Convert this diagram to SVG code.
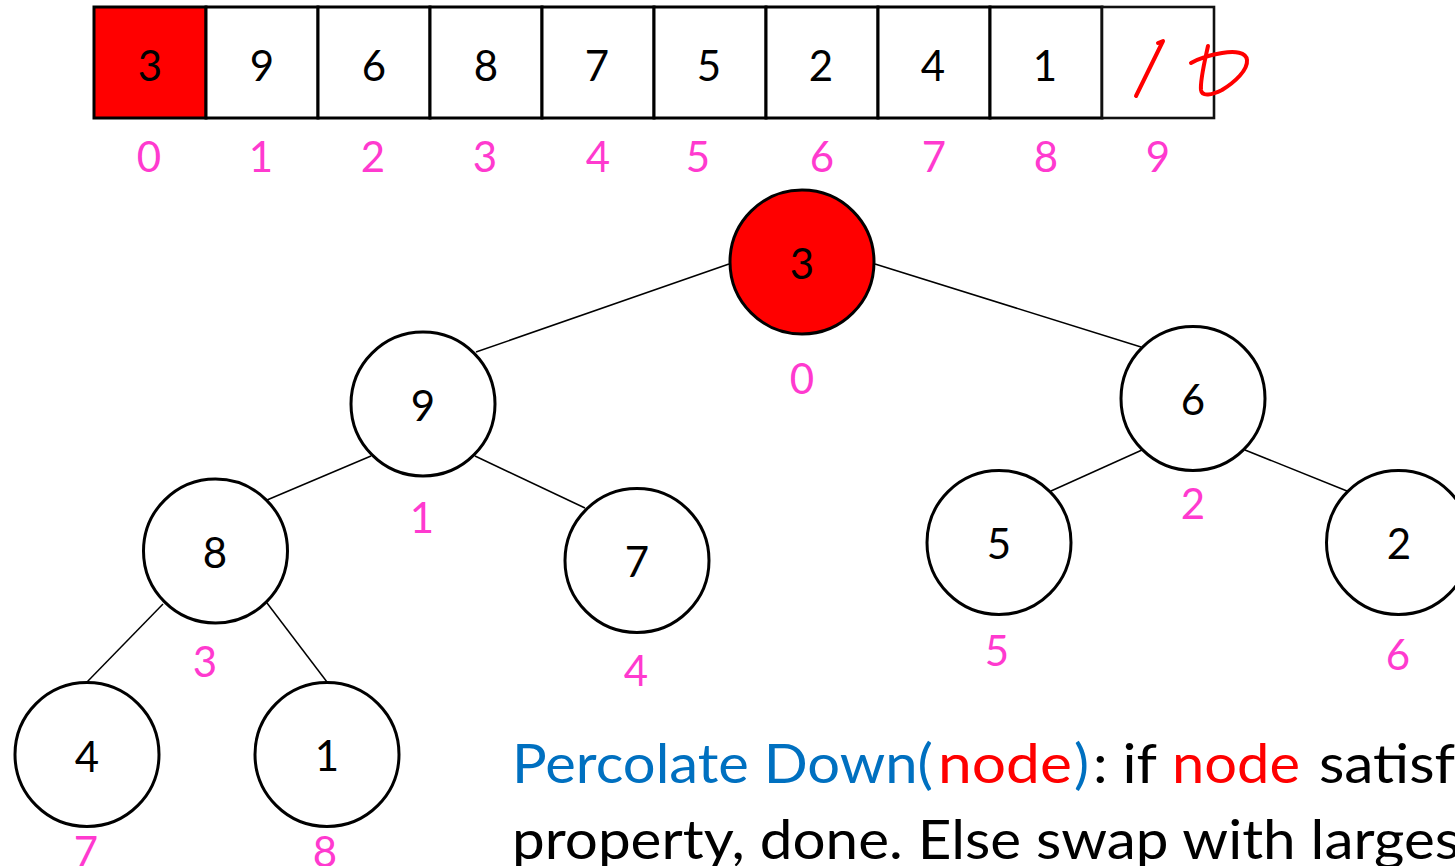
<svg xmlns="http://www.w3.org/2000/svg" width="1455" height="866" viewBox="0 0 1455 866">
<style>
.cell{fill:#fff;stroke:#000;stroke-width:3}
.node{fill:#fff;stroke:#000;stroke-width:3}
.red{fill:#ff0000}
.num{font-family:Lato,"Open Sans",sans-serif;font-size:42px;fill:#000;text-anchor:middle}
.idx{font-family:Lato,"Open Sans",sans-serif;font-size:42px;fill:#ff3acf;text-anchor:middle}
.edge{stroke:#000;stroke-width:1.5;fill:none}
.body{font-family:Lato,"Open Sans",sans-serif;font-size:55px}
.ink{fill:none;stroke:#ff0000;stroke-width:4;stroke-linecap:round;stroke-linejoin:round}
</style>
<rect width="1455" height="866" fill="#fff"/>
<g id="array">
<rect class="cell red" x="94" y="7" width="112" height="111"/>
<rect class="cell" x="206" y="7" width="112" height="111"/>
<rect class="cell" x="318" y="7" width="112" height="111"/>
<rect class="cell" x="430" y="7" width="112" height="111"/>
<rect class="cell" x="542" y="7" width="112" height="111"/>
<rect class="cell" x="654" y="7" width="112" height="111"/>
<rect class="cell" x="766" y="7" width="112" height="111"/>
<rect class="cell" x="878" y="7" width="112" height="111"/>
<rect class="cell" x="990" y="7" width="112" height="111"/>
<rect class="cell" x="1102" y="7" width="112" height="111" style="stroke-width:2.6;stroke:#111"/>
<text class="num" x="150" y="81">3</text>
<text class="num" x="262" y="81">9</text>
<text class="num" x="374" y="81">6</text>
<text class="num" x="486" y="81">8</text>
<text class="num" x="597" y="81">7</text>
<text class="num" x="709" y="81">5</text>
<text class="num" x="821" y="81">2</text>
<text class="num" x="933" y="81">4</text>
<text class="num" x="1045" y="81">1</text>
<text class="idx" x="149" y="172">0</text>
<text class="idx" x="261" y="172">1</text>
<text class="idx" x="373" y="172">2</text>
<text class="idx" x="485" y="172">3</text>
<text class="idx" x="598" y="172">4</text>
<text class="idx" x="698" y="172">5</text>
<text class="idx" x="822" y="172">6</text>
<text class="idx" x="934" y="172">7</text>
<text class="idx" x="1046" y="172">8</text>
<text class="idx" x="1158" y="172">9</text>
</g>
<g id="handwriting">
<path class="ink" d="M1158,43 L1163,41 L1136,96"/>
<path class="ink" d="M1208,46 C1205,60 1200,80 1201,90 C1202,97 1212,95 1222,90 C1235,82 1248,70 1247,60 C1246,52 1235,51 1222,53 C1210,55 1198,59 1191,63"/>
</g>
<g id="connectors">
<line class="edge" x1="729" y1="264" x2="476" y2="352"/>
<line class="edge" x1="875" y1="264" x2="1141" y2="347"/>
<line class="edge" x1="371" y1="456" x2="267" y2="500"/>
<line class="edge" x1="475" y1="456" x2="585" y2="508"/>
<line class="edge" x1="1142" y1="450" x2="1051" y2="491"/>
<line class="edge" x1="1245" y1="450" x2="1347" y2="491"/>
<line class="edge" x1="163" y1="604" x2="87" y2="682"/>
<line class="edge" x1="267" y1="603" x2="327" y2="682"/>
</g>
<g id="node0"><circle class="node red" cx="802" cy="262" r="72"/><text class="num" x="802" y="279">3</text><text class="idx" x="802" y="394">0</text></g>
<g id="node1"><circle class="node" cx="423" cy="404" r="72"/><text class="num" x="423" y="421">9</text><text class="idx" x="422" y="533">1</text></g>
<g id="node2"><circle class="node" cx="1193" cy="398.5" r="72"/><text class="num" x="1193" y="415">6</text><text class="idx" x="1193" y="519">2</text></g>
<g id="node3"><circle class="node" cx="215.5" cy="551" r="72"/><text class="num" x="215" y="568">8</text><text class="idx" x="205" y="677">3</text></g>
<g id="node4"><circle class="node" cx="637" cy="560.5" r="72"/><text class="num" x="637" y="577">7</text><text class="idx" x="636" y="686">4</text></g>
<g id="node5"><circle class="node" cx="999" cy="542.5" r="72"/><text class="num" x="999" y="559">5</text><text class="idx" x="997" y="666">5</text></g>
<g id="node6"><circle class="node" cx="1398.5" cy="542.5" r="72"/><text class="num" x="1399" y="559">2</text><text class="idx" x="1398" y="670">6</text></g>
<g id="node7"><circle class="node" cx="87" cy="754.5" r="72"/><text class="num" x="87" y="772">4</text><text class="idx" x="86" y="867">7</text></g>
<g id="node8"><circle class="node" cx="327" cy="754.5" r="72"/><text class="num" x="327" y="771">1</text><text class="idx" x="325" y="867">8</text></g>
<g id="caption">
<text class="body" x="512" y="783" fill="#0070c0" textLength="421" lengthAdjust="spacingAndGlyphs">Percolate Down(</text>
<text class="body" x="938" y="783" fill="#ff0000" textLength="134" lengthAdjust="spacingAndGlyphs">node</text>
<text class="body" x="1074" y="783" fill="#0070c0" textLength="15" lengthAdjust="spacingAndGlyphs">)</text>
<text class="body" x="1093" y="783" fill="#000" textLength="64" lengthAdjust="spacingAndGlyphs">: if</text>
<text class="body" x="1172" y="783" fill="#ff0000" textLength="128" lengthAdjust="spacingAndGlyphs">node</text>
<text class="body" x="1319" y="783" fill="#000" textLength="136" lengthAdjust="spacingAndGlyphs">satisf</text>
<text class="body" x="512" y="859" fill="#000" textLength="948" lengthAdjust="spacingAndGlyphs">property, done. Else swap with larges</text>
</g>
</svg>
